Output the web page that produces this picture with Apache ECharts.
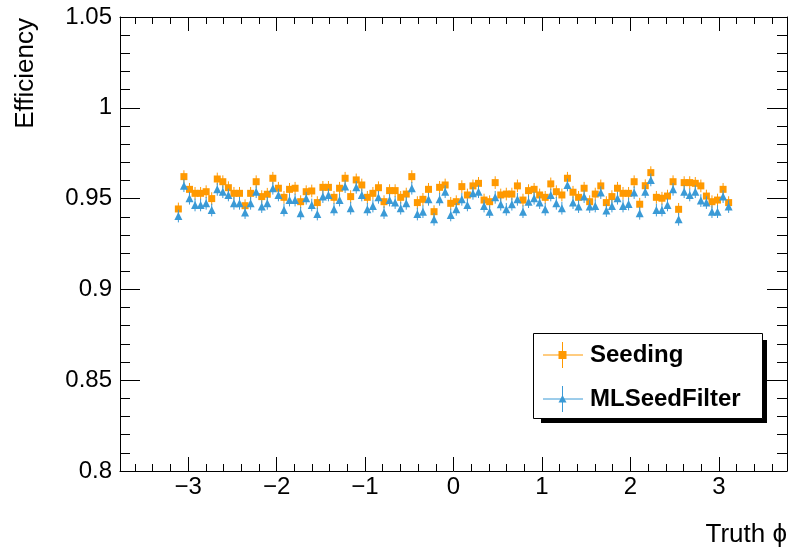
<!DOCTYPE html>
<html>
<head>
<meta charset="utf-8">
<script src="https://cdn.jsdelivr.net/npm/echarts@6/dist/echarts.min.js"></script>
<style>
html,body{margin:0;padding:0;background:#fff;}
#chart{width:788px;height:549px;}
</style>
</head>
<body>
<div id="chart"></div>
<script>
// binning of truth phi
let nBins = 100;
let phiLow = -Math.PI, phiHigh = Math.PI;
let xMin = -3.7699, xMax = 3.7699;
let xTicks = [-3, -2, -1, 0, 1, 2, 3];
let yMin = 0.8, yMax = 1.05, yStep = 0.05;

// efficiency per bin
let seeding = [
    0.9443, 0.9621, 0.9551, 0.9529, 0.9529, 0.9538, 0.9500, 0.9608, 0.9593, 0.9560,
    0.9529, 0.9529, 0.9461, 0.9529, 0.9593, 0.9511, 0.9524, 0.9612, 0.9557, 0.9507,
    0.9551, 0.9557, 0.9483, 0.9538, 0.9542, 0.9478, 0.9562, 0.9562, 0.9507, 0.9557,
    0.9612, 0.9511, 0.9603, 0.9575, 0.9507, 0.9529, 0.9560, 0.9483, 0.9544, 0.9544,
    0.9507, 0.9525, 0.9621, 0.9478, 0.9496, 0.9551, 0.9428, 0.9562, 0.9575, 0.9474,
    0.9483, 0.9566, 0.9520, 0.9570, 0.9584, 0.9492, 0.9483, 0.9588, 0.9520, 0.9525,
    0.9525, 0.9570, 0.9492, 0.9544, 0.9551, 0.9520, 0.9507, 0.9581, 0.9538, 0.9520,
    0.9612, 0.9535, 0.9507, 0.9557, 0.9483, 0.9525, 0.9570, 0.9478, 0.9511, 0.9557,
    0.9529, 0.9529, 0.9593, 0.9469, 0.9571, 0.9643, 0.9507, 0.9502, 0.9514, 0.9593,
    0.9441, 0.9588, 0.9588, 0.9584, 0.9570, 0.9514, 0.9483, 0.9492, 0.9551, 0.9478
];
let mlSeedFilter = [
    0.9404, 0.9571, 0.9502, 0.9465, 0.9465, 0.9474, 0.9437, 0.9551, 0.9538, 0.9520,
    0.9474, 0.9474, 0.9423, 0.9474, 0.9538, 0.9456, 0.9474, 0.9557, 0.9520, 0.9437,
    0.9492, 0.9492, 0.9419, 0.9502, 0.9465, 0.9415, 0.9511, 0.9520, 0.9441, 0.9492,
    0.9566, 0.9447, 0.9562, 0.9520, 0.9441, 0.9459, 0.9507, 0.9423, 0.9492, 0.9478,
    0.9447, 0.9474, 0.9557, 0.9415, 0.9428, 0.9496, 0.9386, 0.9496, 0.9538, 0.9410,
    0.9441, 0.9496, 0.9465, 0.9529, 0.9538, 0.9459, 0.9428, 0.9507, 0.9469, 0.9441,
    0.9469, 0.9496, 0.9428, 0.9483, 0.9502, 0.9478, 0.9441, 0.9520, 0.9474, 0.9447,
    0.9575, 0.9478, 0.9456, 0.9511, 0.9456, 0.9459, 0.9533, 0.9434, 0.9459, 0.9502,
    0.9459, 0.9470, 0.9533, 0.9419, 0.9538, 0.9603, 0.9437, 0.9437, 0.9465, 0.9551,
    0.9386, 0.9538, 0.9520, 0.9538, 0.9489, 0.9478, 0.9428, 0.9428, 0.9511, 0.9456
];
// statistical error (approx. same for all bins)
let errSeeding = 0.0035;
let errML = 0.0035;

let orange = "#ff9900";
let blue = "#3a9ad6";
let font = "'Liberation Sans', Arial, Helvetica, sans-serif";

let binWidth = (phiHigh - phiLow) / nBins;
let phiCenters = seeding.map(function (v, i) { return phiLow + (i + 0.5) * binWidth; });

// minor ticks every 0.2
let xMinor = [];
for (let k = -18; k <= 18; k++) {
    if (k % 5 !== 0) xMinor.push(k * 0.2);
}

function toPoints(vals, err) {
    return vals.map(function (v, i) { return [phiCenters[i], v, err]; });
}

function errBar(params, api) {
    let x = api.value(0), y = api.value(1), e = api.value(2);
    let p1 = api.coord([x, y - e]);
    let p2 = api.coord([x, y + e]);
    return {
        type: 'line',
        shape: {x1: p1[0], y1: p1[1], x2: p2[0], y2: p2[1]},
        style: {stroke: api.visual('color'), lineWidth: 1}
    };
}

function xAxisDef(pos, major) {
    return {
        type: 'value', position: pos, min: xMin, max: xMax,
        axisLine: {show: major, onZero: false, lineStyle: {color: '#000', width: 1}},
        axisTick: {show: true, inside: true, length: major ? 14 : 7,
            customValues: major ? xTicks : xMinor, lineStyle: {color: '#000'}},
        axisLabel: {show: major && pos === 'bottom', customValues: xTicks, margin: 4,
            fontSize: 24, fontFamily: font, color: '#000',
            formatter: function (v) { return v < 0 ? '\u2212' + Math.abs(v) : String(v); }},
        splitLine: {show: false}
    };
}

function yAxisDef(pos) {
    return {
        type: 'value', position: pos, min: yMin, max: yMax, interval: yStep,
        axisLine: {show: true, onZero: false, lineStyle: {color: '#000', width: 1}},
        axisTick: {show: true, inside: true, length: 20, lineStyle: {color: '#000'}},
        minorTick: {show: true, splitNumber: 5, length: 10, lineStyle: {color: '#000'}},
        axisLabel: {show: pos === 'left', margin: 8, fontSize: 24, fontFamily: font, color: '#000',
            formatter: function (v) { return String(+v.toFixed(3)); }},
        splitLine: {show: false}
    };
}

let chart = echarts.init(document.getElementById('chart'));
let option = {
    animation: false,
    backgroundColor: '#fff',
    grid: {left: 120, right: 1, top: 17, bottom: 78, containLabel: false, outerBoundsMode: 'none'},
    xAxis: [
        xAxisDef('bottom', true),
        xAxisDef('bottom', false),
        xAxisDef('top', true),
        xAxisDef('top', false)
    ],
    yAxis: [yAxisDef('left'), yAxisDef('right')],
    series: [
        {
            type: 'custom', name: 'Seeding err', renderItem: errBar,
            itemStyle: {color: orange}, data: toPoints(seeding, errSeeding), z: 2
        },
        {
            type: 'scatter', name: 'Seeding', symbol: 'rect', symbolSize: 7,
            itemStyle: {color: orange, opacity: 1}, data: toPoints(seeding, errSeeding), z: 3
        },
        {
            type: 'custom', name: 'MLSeedFilter err', renderItem: errBar,
            itemStyle: {color: blue}, data: toPoints(mlSeedFilter, errML), z: 4
        },
        {
            type: 'scatter', name: 'MLSeedFilter', symbol: 'triangle', symbolSize: 8,
            itemStyle: {color: blue, opacity: 1}, data: toPoints(mlSeedFilter, errML), z: 5
        }
    ],
    graphic: [
        // axis titles
        {
            type: 'text', x: 26, y: 18, rotation: Math.PI / 2,
            style: {text: 'Efficiency', font: '26px ' + font, fill: '#000', align: 'right', verticalAlign: 'middle'}
        },
        {
            type: 'text', x: 787, y: 535,
            style: {text: 'Truth \u03d5', font: '26px ' + font, fill: '#000', align: 'right', verticalAlign: 'middle'}
        },
        // legend box with shadow
        {type: 'rect', shape: {x: 541, y: 340, width: 226, height: 83}, style: {fill: '#000'}, z: 10},
        {type: 'rect', shape: {x: 533.5, y: 333.5, width: 229, height: 85},
            style: {fill: '#fff', stroke: '#000', lineWidth: 1}, z: 11},
        // Seeding entry
        {type: 'line', shape: {x1: 543, y1: 355, x2: 583, y2: 355}, style: {stroke: orange, lineWidth: 1}, z: 12},
        {type: 'line', shape: {x1: 562.5, y1: 342, x2: 562.5, y2: 368}, style: {stroke: orange, lineWidth: 1}, z: 12},
        {type: 'rect', shape: {x: 558.5, y: 351, width: 8, height: 8}, style: {fill: orange}, z: 13},
        {type: 'text', x: 590, y: 355, z: 13,
            style: {text: 'Seeding', font: 'bold 24px ' + font, fill: '#000', align: 'left', verticalAlign: 'middle'}},
        // MLSeedFilter entry
        {type: 'line', shape: {x1: 543, y1: 399, x2: 583, y2: 399}, style: {stroke: blue, lineWidth: 1}, z: 12},
        {type: 'line', shape: {x1: 562.5, y1: 386, x2: 562.5, y2: 412}, style: {stroke: blue, lineWidth: 1}, z: 12},
        {type: 'polygon', shape: {points: [[562.5, 395], [566.5, 402.5], [558.5, 402.5]]}, style: {fill: blue}, z: 13},
        {type: 'text', x: 590, y: 399, z: 13,
            style: {text: 'MLSeedFilter', font: 'bold 24px ' + font, fill: '#000', align: 'left', verticalAlign: 'middle'}}
    ]
};
chart.setOption(option);
</script>
</body>
</html>
